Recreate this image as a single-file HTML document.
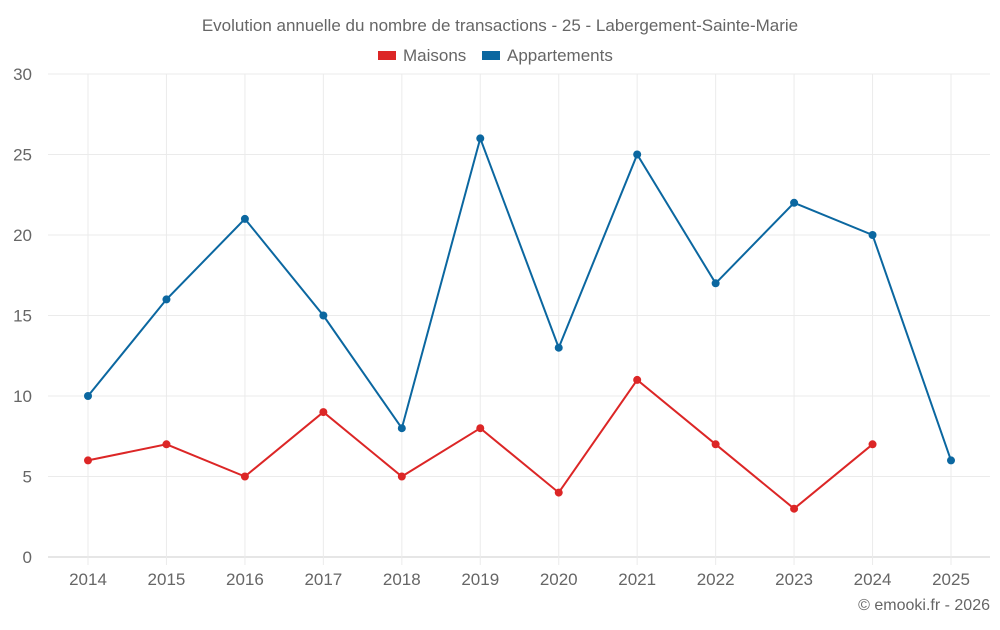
<!DOCTYPE html>
<html><head><meta charset="utf-8"><style>
body{margin:0;background:#fff;font-family:"Liberation Sans",sans-serif;}
svg text{font-family:"Liberation Sans",sans-serif;fill:#666;}
</style></head><body>
<svg id="chart" width="1000" height="625" viewBox="0 0 1000 625">
<text x="500" y="31" text-anchor="middle" font-size="17">Evolution annuelle du nombre de transactions - 25 - Labergement-Sainte-Marie</text>
<g>
<g><rect x="378" y="51" width="18" height="9" fill="#dc2626"/><text x="403" y="61" font-size="17">Maisons</text></g>
<g><rect x="482" y="51" width="18" height="9" fill="#0b67a0"/><text x="507" y="61" font-size="17">Appartements</text></g>
</g>
<g id="grid"></g>
<g id="axes"></g>
<g id="series"></g>
<text x="990" y="610" text-anchor="end" font-size="16">© emooki.fr - 2026</text>
</svg>
<script>
const years=["2014","2015","2016","2017","2018","2019","2020","2021","2022","2023","2024","2025"];
const maisons=[6,7,5,9,5,8,4,11,7,3,7,null];
const appartements=[10,16,21,15,8,26,13,25,17,22,20,6];
const yTicks=[0,5,10,15,20,25,30];
const NS="http://www.w3.org/2000/svg";
const L=48,R=990,T=74,B=557,ymax=30;
const x=i=>88+i*(951-88)/(years.length-1);
const y=v=>B-(B-T)*v/ymax;
function mk(tag,attrs,parent){const e=document.createElementNS(NS,tag);for(const k in attrs)e.setAttribute(k,attrs[k]);parent.appendChild(e);return e;}
const grid=document.getElementById('grid'),axes=document.getElementById('axes'),series=document.getElementById('series');
yTicks.forEach(t=>{
 const l=mk('line',{x1:L,x2:R,y1:y(t),y2:y(t),stroke:t===0?'#ccc':'#ebebeb','stroke-width':1},grid);
 
 
 const tx=mk('text',{x:32,y:y(t)+6,'text-anchor':'end','font-size':17},axes);
 tx.textContent=t;
 
 
});
years.forEach((yr,i)=>{
 const l=mk('line',{x1:x(i),x2:x(i),y1:T,y2:B+8,stroke:'#ebebeb','stroke-width':1},grid);
 
 
 const tx=mk('text',{x:x(i),y:585,'text-anchor':'middle','font-size':17},axes);
 tx.textContent=yr;
 
 
});
function draw(vals,color,name){
 const pts=vals.map((v,i)=>v==null?null:[x(i),y(v)]).filter(p=>p);
 const pl=mk('polyline',{points:pts.map(p=>p.join(',')).join(' '),fill:'none',stroke:color,'stroke-width':2},series);
 
 
 pts.forEach(p=>{
  const c=mk('circle',{cx:p[0],cy:p[1],r:4,fill:color},series);
  
  
 });
}
draw(appartements,'#0b67a0','appartements');
draw(maisons,'#dc2626','maisons');
</script>
</body></html>
